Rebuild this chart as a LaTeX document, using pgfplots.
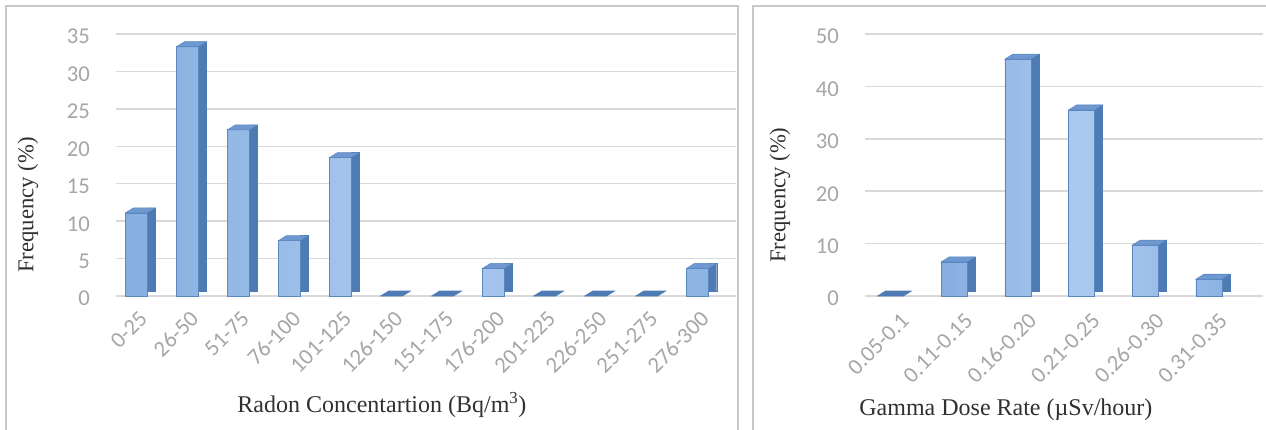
\documentclass[border=0pt]{standalone}
\usepackage{fontspec}
\setmainfont{Liberation Serif}
\newfontfamily\tickfont{Carlito}
\usepackage{pgfplots}
\usepackage{pgfplotstable}
\pgfplotsset{compat=1.18}
\definecolor{gridgray}{HTML}{D9D9D9}
\definecolor{tickgray}{HTML}{A6A6A6}
\definecolor{labelgray}{HTML}{303030}
\definecolor{frontA}{HTML}{86AEDF}
\definecolor{frontB}{HTML}{ABCAEF}
\definecolor{frontC}{HTML}{8DB3E2}
\definecolor{edgeblue}{HTML}{5A87C0}
\definecolor{sideblue}{HTML}{4F7BB4}
\definecolor{capblue}{HTML}{6E98CF}
\definecolor{framegray}{HTML}{C8C8C8}

% cap (top face) marks for the 3-D look
\pgfdeclareplotmark{capL}{%
  \pgfpathmoveto{\pgfpoint{-8.25pt}{0pt}}%
  \pgfpathlineto{\pgfpoint{8.25pt}{0pt}}%
  \pgfpathlineto{\pgfpoint{14.25pt}{3.75pt}}%
  \pgfpathlineto{\pgfpoint{-2.25pt}{3.75pt}}%
  \pgfpathclose\pgfusepathqfillstroke}
\pgfdeclareplotmark{capR}{%
  \pgfpathmoveto{\pgfpoint{-9.75pt}{0pt}}%
  \pgfpathlineto{\pgfpoint{9.75pt}{0pt}}%
  \pgfpathlineto{\pgfpoint{15.75pt}{3.75pt}}%
  \pgfpathlineto{\pgfpoint{-3.75pt}{3.75pt}}%
  \pgfpathclose\pgfusepathqfillstroke}

% Radon concentration (non-zero classes)
\pgfplotstableread{
x y
0 11.1
1 33.3
2 22.2
3 7.4
4 18.5
7 3.7
11 3.7
}\radon
% Radon classes with zero frequency
\pgfplotstableread{
x y
5 0
6 0
8 0
9 0
10 0
}\radonzero
% Gamma dose rate (non-zero classes)
\pgfplotstableread{
x y
1 6.5
2 45.2
3 35.5
4 9.7
5 3.2
}\gamma
\pgfplotstableread{
x y
0 0
}\gammazero

\pgfplotsset{
  myaxis/.style={
    scale only axis,
    height=196.5pt,
    anchor=south west,
    ymin=0,
    enlargelimits=false,
    clip=false,
    axis lines*=left,
    axis line style={draw=none},
    major tick length=0pt,
    ymajorgrids,
    grid style={gridgray, line width=1.1pt},
    /pgf/number format/assume math mode=true,
    ticklabel style={font=\tickfont\fontsize{17}{20}\selectfont, text=tickgray},
    yticklabel style={anchor=east, xshift=-16pt, yshift=-2pt},
    label style={text=labelgray},
    xlabel style={font=\fontsize{18}{21}\selectfont},
    ylabel style={font=\fontsize{17}{20}\selectfont},
  },
}

\begin{document}
\begin{tikzpicture}
\useasboundingbox (0,0) rectangle (949.5pt,-321.75pt);
% panel frames
\draw[framegray, line width=0.8pt] (4.5pt,-330pt) -- (4.5pt,-4.5pt) -- (553.5pt,-4.5pt) -- (553.5pt,-330pt);
\draw[framegray, line width=0.8pt] (564.75pt,-330pt) -- (564.75pt,-4.5pt) -- (955pt,-4.5pt);

% ---------- Left: Radon ----------
\begin{axis}[
  myaxis,
  at={(87pt,-222pt)},
  width=465pt,
  xmin=-0.4, xmax=11.75,
  ymax=35, ytick={0,5,...,35},
  xtick={0,...,11},
  xticklabels={0-25,26-50,51-75,76-100,101-125,126-150,151-175,176-200,201-225,226-250,251-275,276-300},
  xticklabel style={rotate=45, anchor=east, xshift=-3pt, yshift=-14pt},
  xlabel={Radon Concentartion (Bq/m\textsuperscript{3})},
  xlabel style={at={(axis description cs:0.429,-0.416)}, anchor=center},
  ylabel={Frequency (\%)},
  ylabel style={at={(axis description cs:-0.142,0.347)}, anchor=center},
]
\addplot[ybar, bar width=6pt, bar shift=11.25pt, yshift=3.75pt, fill=sideblue, draw=sideblue, line width=0.3pt] table[x=x,y=y] {\radon};
\addplot[ybar, bar width=16.5pt, bar shift=0pt, left color=frontA, right color=frontC, middle color=frontB, draw=edgeblue, line width=0.5pt] table[x=x,y=y] {\radon};
\addplot[only marks, mark=capL, mark options={fill=capblue, draw=edgeblue, line width=0.4pt}] table[x=x,y=y] {\radon};
\addplot[only marks, mark=capL, mark options={fill=sideblue, draw=sideblue, line width=0.4pt}] table[x=x,y=y] {\radonzero};
\end{axis}

% ---------- Right: Gamma ----------
\begin{axis}[
  myaxis,
  at={(648.75pt,-222pt)},
  width=298.5pt,
  xmin=-0.4, xmax=5.85,
  ymax=50, ytick={0,10,...,50},
  xtick={0,...,5},
  xticklabels={0.05-0.1,0.11-0.15,0.16-0.20,0.21-0.25,0.26-0.30,0.31-0.35},
  xticklabel style={rotate=45, anchor=east, xshift=0pt, yshift=-19pt},
  xlabel={Gamma Dose Rate (µSv/hour)},
  xlabel style={at={(axis description cs:0.354,-0.435)}, anchor=center},
  ylabel={Frequency (\%)},
  ylabel style={at={(axis description cs:-0.214,0.385)}, anchor=center},
]
\addplot[ybar, bar width=6pt, bar shift=12.75pt, yshift=3.75pt, fill=sideblue, draw=sideblue, line width=0.3pt] table[x=x,y=y] {\gamma};
\addplot[ybar, bar width=19.5pt, bar shift=0pt, left color=frontA, right color=frontC, middle color=frontB, draw=edgeblue, line width=0.5pt] table[x=x,y=y] {\gamma};
\addplot[only marks, mark=capR, mark options={fill=capblue, draw=edgeblue, line width=0.4pt}] table[x=x,y=y] {\gamma};
\addplot[only marks, mark=capR, mark options={fill=sideblue, draw=sideblue, line width=0.4pt}] table[x=x,y=y] {\gammazero};
\end{axis}
\end{tikzpicture}
\end{document}
